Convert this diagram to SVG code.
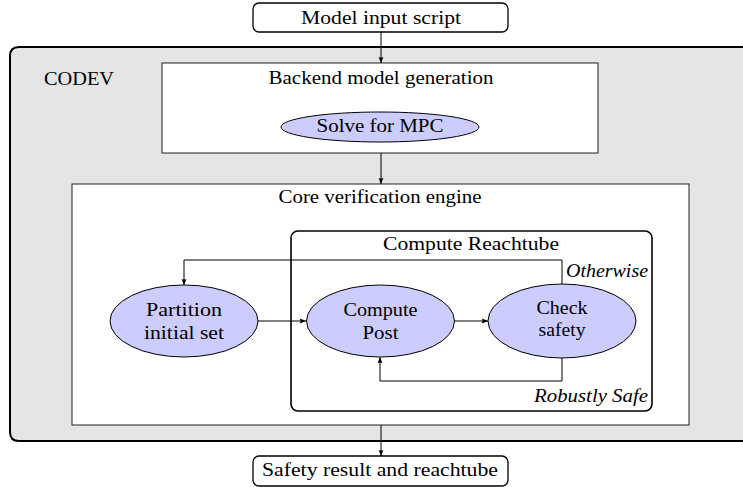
<svg xmlns="http://www.w3.org/2000/svg" width="743" height="487" viewBox="0 0 743 487">
<defs>
<marker id="ah" markerWidth="7" markerHeight="6" refX="6" refY="3" orient="auto" markerUnits="userSpaceOnUse">
<path d="M0,0.6 L6,3 L0,5.4 Q1.2,3 0,0.6 z" fill="#000"/>
</marker>
<style>
text{font-family:"Liberation Serif","DejaVu Serif",serif;font-size:18px;fill:#000}
.c{text-anchor:middle}
.e{text-anchor:end;font-style:italic}
.term{fill:#fff;stroke:#000;stroke-width:1.3}
.panel{fill:#fff;stroke:#333;stroke-width:1.1}
.ell{fill:#ccccff;stroke:#000;stroke-width:1}
.arr{fill:none;stroke:#000;stroke-width:1;marker-end:url(#ah)}
</style>
</defs>

<g id="codev">
<path d="M745,47 H19 Q10,47 10,56 V432 Q10,441 19,441 H745" fill="#e5e5e5" stroke="#000" stroke-width="2"/>
<text x="79" y="85" class="c" textLength="70" lengthAdjust="spacingAndGlyphs">CODEV</text>
</g>

<g id="input">
<rect x="253" y="3" width="255" height="29" rx="6" class="term"/>
<text x="381" y="24" class="c" textLength="160" lengthAdjust="spacingAndGlyphs">Model input script</text>
</g>

<g id="backend">
<rect x="162" y="63" width="436" height="90" class="panel"/>
<text x="381" y="84" class="c" textLength="225" lengthAdjust="spacingAndGlyphs">Backend model generation</text>
</g>

<g id="mpc">
<ellipse cx="380" cy="127" rx="99" ry="15" class="ell"/>
<text x="380" y="132" class="c" textLength="127" lengthAdjust="spacingAndGlyphs">Solve for MPC</text>
</g>

<g id="core">
<rect x="72" y="184" width="617" height="241" class="panel"/>
<text x="380" y="203" class="c" textLength="203" lengthAdjust="spacingAndGlyphs">Core verification engine</text>
</g>

<g id="reachtube">
<rect x="291" y="231" width="361" height="180" rx="7" fill="none" stroke="#000" stroke-width="1.6"/>
<text x="471" y="250" class="c" textLength="176" lengthAdjust="spacingAndGlyphs">Compute Reachtube</text>
</g>

<g id="partition">
<ellipse cx="184" cy="321" rx="74" ry="36" class="ell"/>
<text x="184" y="316" class="c" textLength="76" lengthAdjust="spacingAndGlyphs">Partition</text>
<text x="184" y="339" class="c" textLength="80" lengthAdjust="spacingAndGlyphs">initial set</text>
</g>

<g id="post">
<ellipse cx="380.5" cy="321" rx="74" ry="36" class="ell"/>
<text x="380.5" y="316" class="c" textLength="74" lengthAdjust="spacingAndGlyphs">Compute</text>
<text x="380.5" y="339" class="c" textLength="36" lengthAdjust="spacingAndGlyphs">Post</text>
</g>

<g id="check">
<ellipse cx="562" cy="321" rx="74" ry="37" class="ell"/>
<text x="562" y="314" class="c" textLength="51" lengthAdjust="spacingAndGlyphs">Check</text>
<text x="562" y="336" class="c" textLength="47" lengthAdjust="spacingAndGlyphs">safety</text>
</g>

<g id="output">
<rect x="253" y="456" width="255" height="30" rx="6" class="term"/>
<text x="380" y="476" class="c" textLength="236" lengthAdjust="spacingAndGlyphs">Safety result and reachtube</text>
</g>

<g id="connectors">
<line x1="381" y1="32" x2="381" y2="63" class="arr"/>
<line x1="381" y1="153" x2="381" y2="184" class="arr"/>
<line x1="381" y1="425" x2="381" y2="456" class="arr"/>
<line x1="258" y1="321" x2="306" y2="321" class="arr"/>
<line x1="454.5" y1="321" x2="488" y2="321" class="arr"/>
<path d="M562,284 V260 H184 V285" class="arr"/>
<path d="M562,358 V381 H380 V357" class="arr"/>
<text x="648" y="277" class="e" textLength="82" lengthAdjust="spacingAndGlyphs">Otherwise</text>
<text x="648" y="402" class="e" textLength="114" lengthAdjust="spacingAndGlyphs">Robustly Safe</text>
</g>
</svg>
